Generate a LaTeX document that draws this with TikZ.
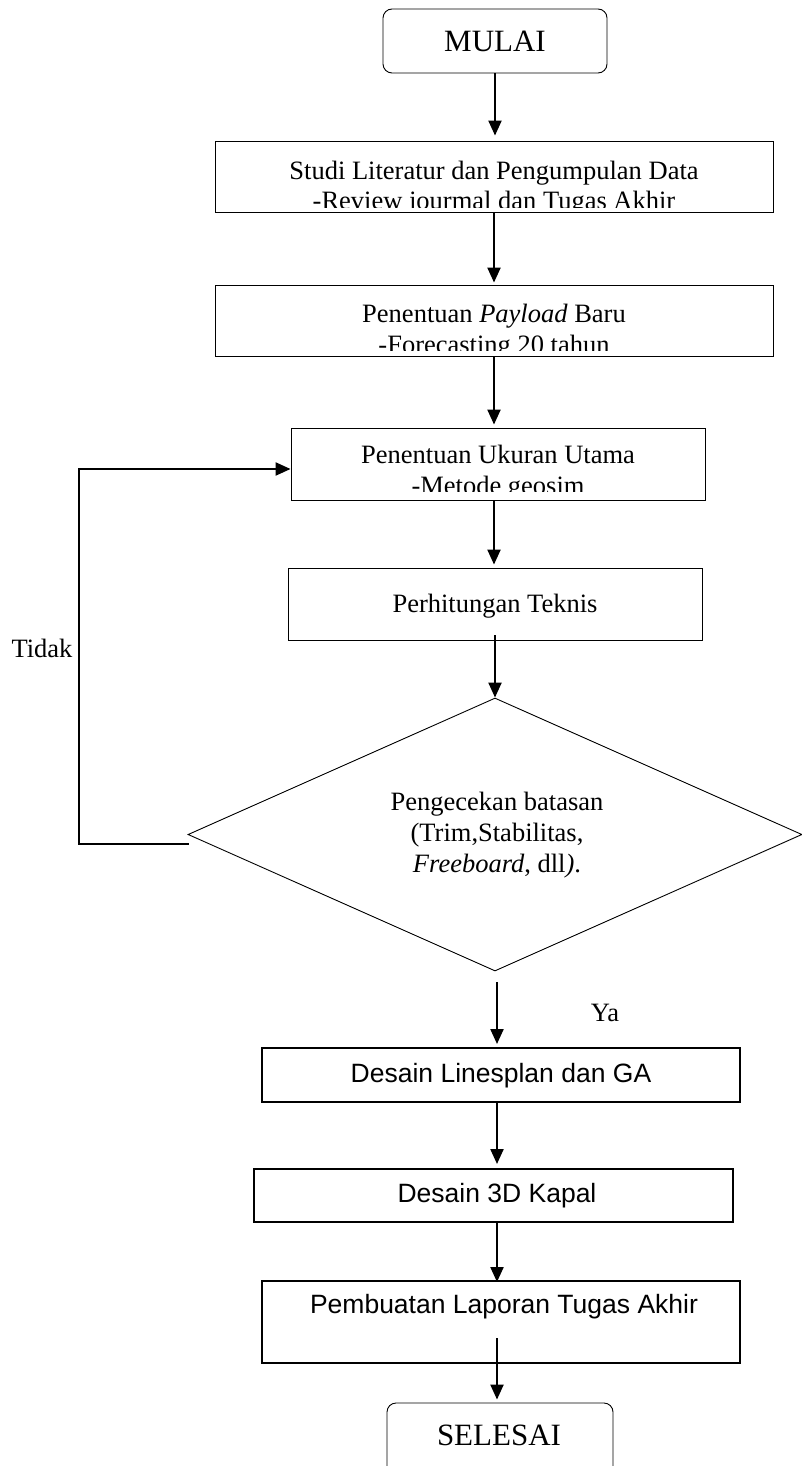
\documentclass[tikz,border=0pt]{standalone}
\usepackage{fontspec}
\setmainfont{Liberation Serif}
\newfontfamily\arialf{Liberation Sans}
\usetikzlibrary{arrows.meta,shapes.geometric}
\begin{document}
\begin{tikzpicture}[x=1pt,y=-1pt,
  thinbox/.style={draw, line width=0.9pt, inner sep=0pt},
  thickbox/.style={draw, line width=2pt, inner sep=0pt},
  term/.style={draw, line width=0.9pt, rounded corners=9pt, inner sep=0pt},
  arr/.style={line width=2.2pt, -{Triangle[width=13pt,length=15pt]}},
  txt/.style={font=\fontsize{26.5}{31}\selectfont, inner sep=0pt},
  big/.style={font=\fontsize{31}{36}\selectfont, inner sep=0pt},
  sans/.style={font=\arialf\fontsize{26.5}{31}\selectfont, inner sep=0pt}]
\useasboundingbox (0,0) rectangle (802,1466);

% start
\node[term, minimum width=224pt, minimum height=64pt] (mulai) at (495,41) {};
\node[big] (mulait) at (495,41) {MULAI};

% box 1
\node[thinbox, minimum width=558pt, minimum height=71pt] (b1) at (494,176.5) {};
\node[txt, anchor=base] (b1a) at (494,180) {Studi Literatur dan Pengumpulan Data};
\begin{scope}
\clip (215,141) rectangle (773,207);
\node[txt, anchor=base] (b1b) at (494,210) {-Review jourmal dan Tugas Akhir};
\end{scope}

% box 2
\node[thinbox, minimum width=558pt, minimum height=71pt] (b2) at (494,320.5) {};
\node[txt, anchor=base] (b2a) at (494,322) {Penentuan \textit{Payload} Baru};
\begin{scope}
\clip (215,285) rectangle (773,350);
\node[txt, anchor=base] (b2b) at (494,353) {-Forecasting 20 tahun};
\end{scope}

% box 3
\node[thinbox, minimum width=414pt, minimum height=72pt] (b3) at (498,464) {};
\node[txt, anchor=base] (b3a) at (498,463) {Penentuan Ukuran Utama};
\begin{scope}
\clip (291,428) rectangle (705,491);
\node[txt, anchor=base] (b3b) at (498,494) {-Metode geosim};
\end{scope}

% box 4
\node[thinbox, minimum width=414pt, minimum height=72pt] (b4) at (495,604) {};
\node[txt] (b4a) at (495,606) {Perhitungan Teknis};

% decision
\node[draw, diamond, aspect=2.25, minimum width=614pt, minimum height=273pt,
      inner sep=0pt, line width=0.9pt] (dia) at (495,834.5) {};
\node[txt, align=center] (diat) at (497,835)
  {Pengecekan batasan\\(Trim,Stabilitas,\\\textit{Freeboard}, dll\textit{)}.};

% lower boxes
\node[thickbox, minimum width=478pt, minimum height=54pt] (b5) at (501,1075) {};
\node[sans] (b5a) at (501,1076) {Desain Linesplan dan GA};

\node[thickbox, minimum width=479pt, minimum height=53pt] (b6) at (493.5,1195.5) {};
\node[sans] (b6a) at (497,1196) {Desain 3D Kapal};

\node[thickbox, minimum width=478pt, minimum height=82pt] (b7) at (501,1322) {};
\node[sans] (b7a) at (504,1307) {Pembuatan Laporan Tugas Akhir};

\node[term, minimum width=226pt, minimum height=76pt] (sel) at (500,1441) {};
\node[big] (selt) at (499,1435) {SELESAI};

% labels
\node[txt] (ya) at (605,1013) {Ya};
\node[txt] (tidak) at (42,648) {Tidak};

% arrows
\draw[arr, shorten >=5pt] (mulai.south) -- (mulai.south |- b1.north);
\draw[arr, shorten >=2pt] (b1.south) -- (b1.south |- b2.north);
\draw[arr, shorten >=3pt] (b2.south) -- (b2.south |- b3.north);
\draw[arr, shorten >=3pt] (b2.south |- b3.south) -- (b2.south |- b4.north);
\draw[arr, shorten <=5pt] (b4.south) -- (b4.south -| dia.north) -- (dia.north);
\draw[arr, shorten <=11pt, shorten >=3pt] ([xshift=2pt]dia.south) -- ([xshift=2pt]dia.south |- b5.north);
\draw[arr, shorten >=4pt] ([xshift=2pt]dia.south |- b5.south) -- ([xshift=2pt]dia.south |- b6.north);
\draw[arr, shorten >=-2pt] ([xshift=2pt]dia.south |- b6.south) -- ([xshift=2pt]dia.south |- b7.north);
\draw[arr, shorten <=-26pt, shorten >=3pt] ([xshift=2pt]dia.south |- b7.south) -- ([xshift=2pt]dia.south |- sel.north);

% loop back
\coordinate (lp) at (79,844);
\draw[arr, line cap=rect] ([yshift=-9.5pt]dia.west) -- (lp) |- ([yshift=-5pt]b3.west);
\end{tikzpicture}
\end{document}
